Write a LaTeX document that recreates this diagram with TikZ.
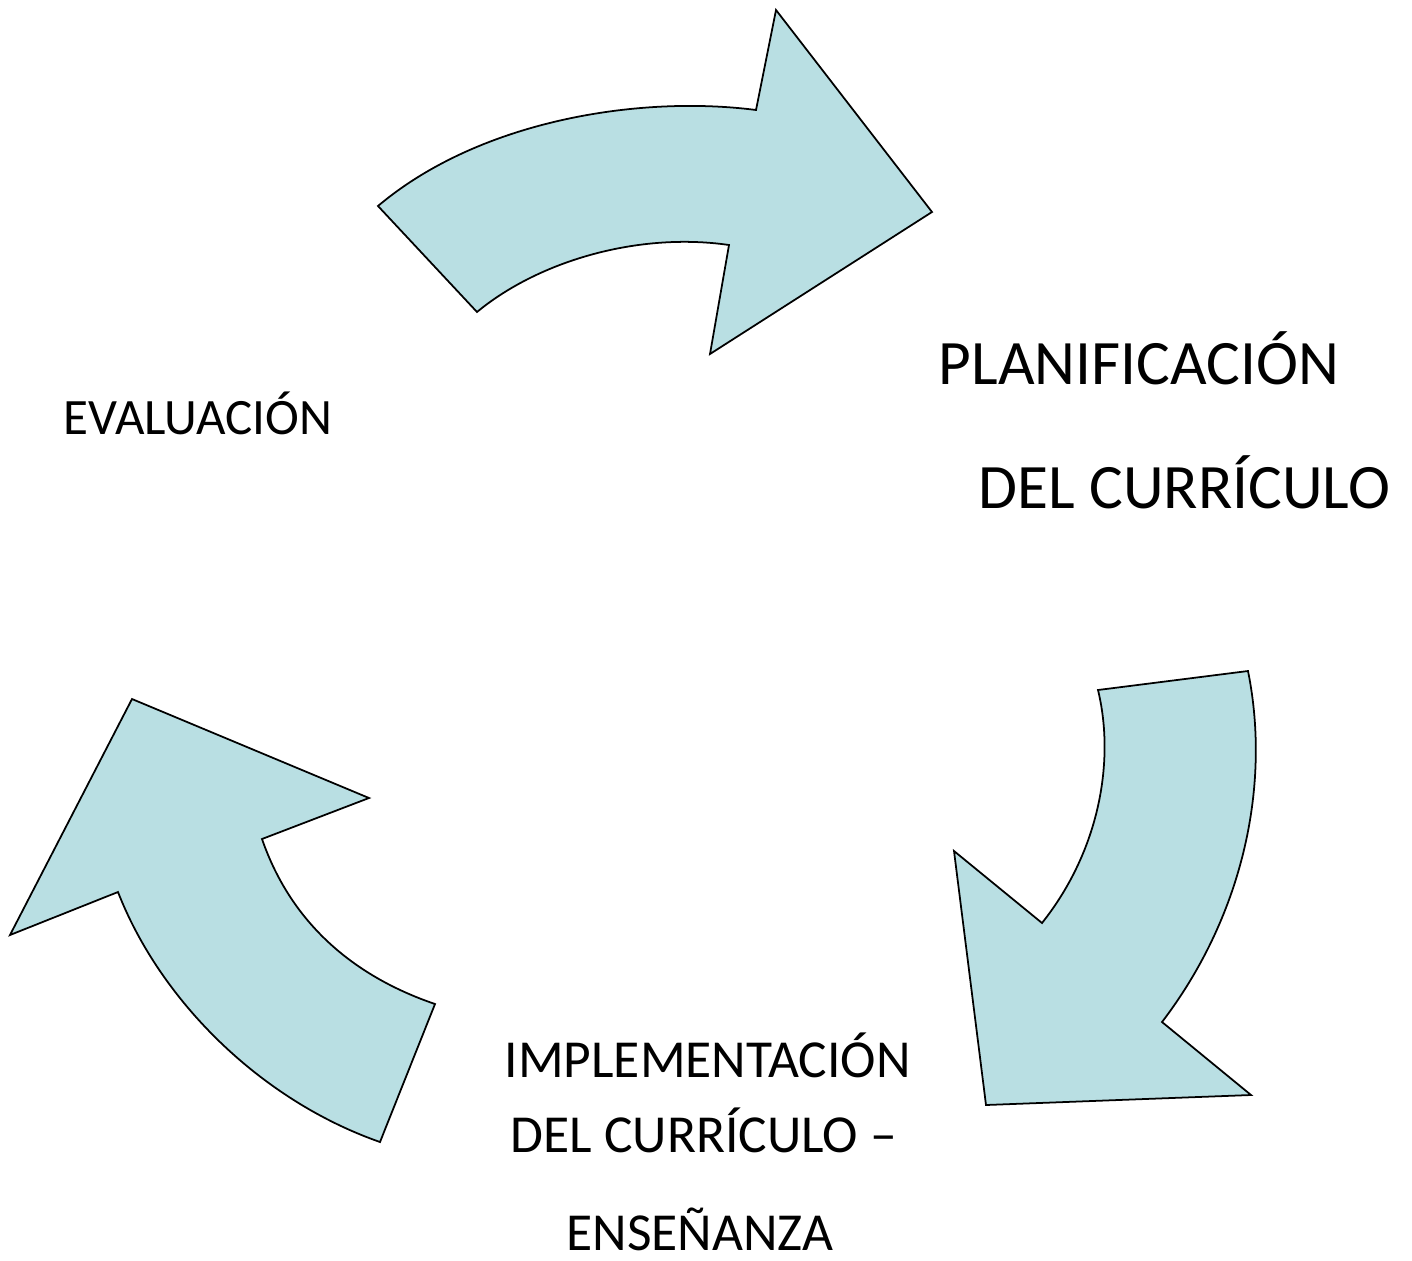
\documentclass[tikz,border=0pt]{standalone}
\usepackage{fontspec}
\setmainfont{Carlito}
\definecolor{arrowblue}{HTML}{B9DFE3}

\begin{document}
\begin{tikzpicture}[x=0.01cm, y=-0.01cm,
  cyclearrow/.style={fill=arrowblue, draw=black, line width=0.5pt, line join=miter},
  lbl/.style={anchor=base west, inner sep=0pt}]
\useasboundingbox (0,0) rectangle (1412,1260);

% arrow towards planificacion
\draw[cyclearrow] (378,206) .. controls (480,120) and (640,95) .. (756,110)
  -- (776,10) -- (932,212) -- (710,354) -- (729,245)
  .. controls (640,232) and (540,260) .. (477,312) -- cycle;

% arrow towards implementacion
\draw[cyclearrow] (1098,690) -- (1248,671)
  .. controls (1272,790) and (1240,920) .. (1162,1022)
  -- (1251,1095) -- (986,1105) -- (954,851) -- (1042,923)
  .. controls (1100,850) and (1115,760) .. cycle;

% arrow towards evaluacion
\draw[cyclearrow] (435,1004) -- (380,1142)
  .. controls (260,1100) and (160,1000) .. (118,892)
  -- (10,935) -- (132,699) -- (369,798) -- (262,839)
  .. controls (290,920) and (350,975) .. cycle;

\node[lbl, font=\fontsize{14.5}{17}\selectfont] (eval) at (63,434) {EVALUACIÓN};
\node[lbl, font=\fontsize{18}{22}\selectfont] (plan) at (938,384) {PLANIFICACIÓN};
\node[lbl, font=\fontsize{18}{22}\selectfont] (curr) at (978,508) {DEL CURRÍCULO};
\node[lbl, font=\fontsize{15.2}{18}\selectfont] (impl) at (504,1077) {IMPLEMENTACIÓN};
\node[lbl, font=\fontsize{15.2}{18}\selectfont] (impl2) at (510,1152) {DEL CURRÍCULO –};
\node[lbl, font=\fontsize{15.2}{18}\selectfont] (ense) at (566,1250) {ENSEÑANZA};

\end{tikzpicture}
\end{document}
